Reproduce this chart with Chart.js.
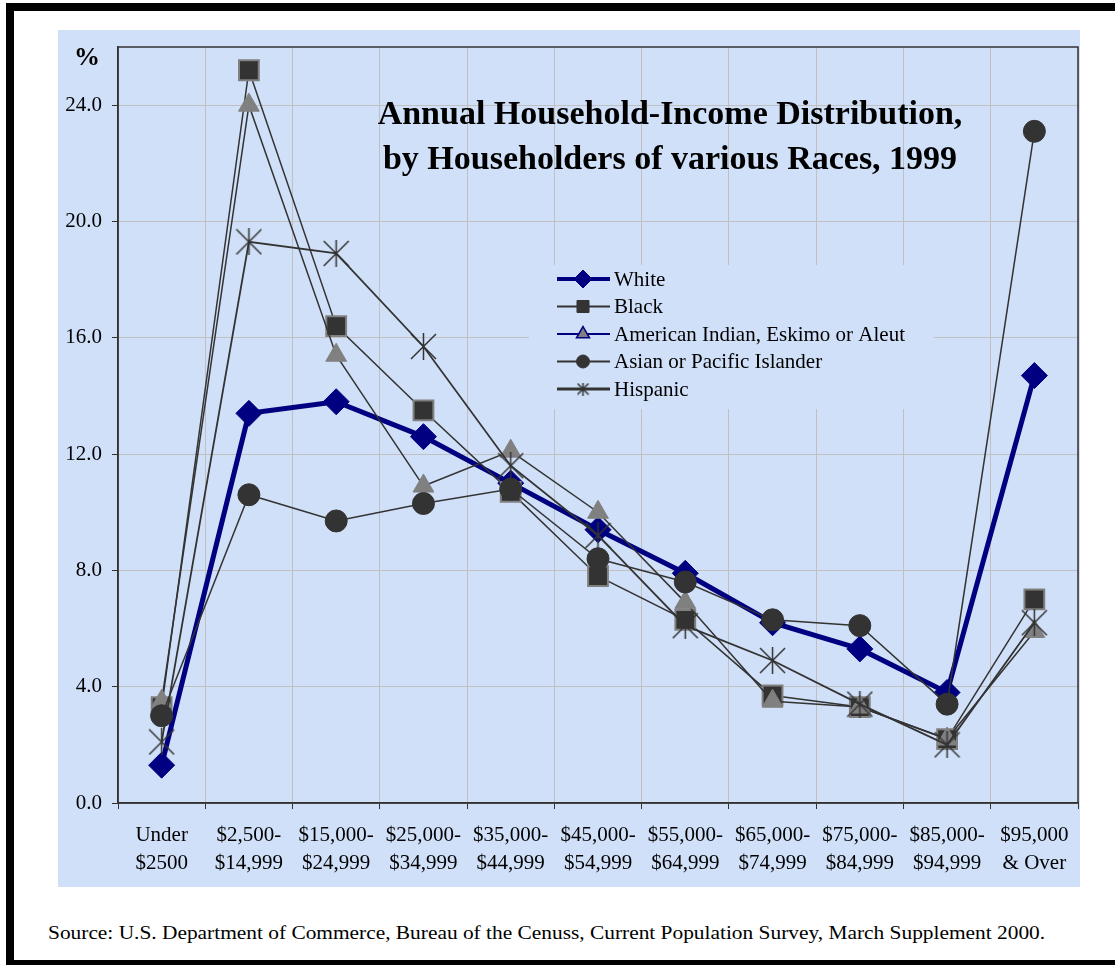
<!DOCTYPE html>
<html>
<head>
<meta charset="utf-8">
<script src="https://cdn.jsdelivr.net/npm/chart.js@4.4.1/dist/chart.umd.min.js"></script>
<style>
html, body { margin: 0; padding: 0; background: #fff; overflow: hidden; width: 1115px; height: 965px; }
#frame { position: absolute; left: 6px; top: 3px; width: 1130px; height: 965px; border: 8px solid #000; box-sizing: border-box; }
#plot { position: absolute; left: 58px; top: 30px; width: 1022px; height: 857px; background: #d0e0f8; }
#source { position: absolute; left: 48px; top: 922px; font-family: "Liberation Serif", "Times New Roman", serif; font-size: 19px; color: #000; white-space: nowrap; transform: scaleX(1.125); transform-origin: left top; }
</style>
</head>
<body>
<div id="frame"></div>
<div id="plot"><canvas id="myChart" width="1022" height="857"></canvas></div>
<div id="source">Source: U.S. Department of Commerce, Bureau of the Cenuss, Current Population Survey, March Supplement 2000.</div>
<script>
// income brackets (two lines each)
let labels = [
    ["Under", "$2500"], ["$2,500-", "$14,999"], ["$15,000-", "$24,999"], ["$25,000-", "$34,999"],
    ["$35,000-", "$44,999"], ["$45,000-", "$54,999"], ["$55,000-", "$64,999"], ["$65,000-", "$74,999"],
    ["$75,000-", "$84,999"], ["$85,000-", "$94,999"], ["$95,000", "& Over"]
];
let white    = [1.3, 13.4, 13.8, 12.6, 11.0, 9.4, 7.9, 6.2, 5.3, 3.8, 14.7];
let black    = [3.3, 25.2, 16.4, 13.5, 10.7, 7.8, 6.3, 3.7, 3.3, 2.2, 7.0];
let amIndian = [3.5, 24.0, 15.4, 10.9, 12.1, 10.0, 6.9, 3.5, 3.3, 2.2, 5.9];
let asian    = [3.0, 10.6, 9.7, 10.3, 10.8, 8.4, 7.6, 6.3, 6.1, 3.4, 23.1];
let hispanic = [2.1, 19.3, 18.9, 15.7, 11.6, 9.2, 6.1, 4.9, 3.4, 2.0, 6.2];

let titleLines = ["Annual Household-Income Distribution,", "by Householders of various Races, 1999"];
const serif = "'Liberation Serif', 'Times New Roman', serif";

// excel style star marker: vertical bar + X
function makeStar(size, lw) {
    let c = document.createElement("canvas");
    c.width = size; c.height = size;
    let g = c.getContext("2d");
    g.strokeStyle = "#333";
    g.lineWidth = lw;
    let m = size / 2;
    g.beginPath();
    g.moveTo(m, 0); g.lineTo(m, size);
    g.moveTo(1, 1); g.lineTo(size - 1, size - 1);
    g.moveTo(1, size - 1); g.lineTo(size - 1, 1);
    g.stroke();
    return c;
}
let starBig = makeStar(27, 1.5);
let starSmall = makeStar(13, 1.5);

let legendItems = [
    { text: "White", line: "#000080", lw: 4, style: "rectRot", r: 9, fill: "#000080", stroke: "#000080", bw: 1 },
    { text: "Black", line: "#333", lw: 2, style: "rect", r: 8.5, fill: "#333", stroke: "#333", bw: 1 },
    { text: "American Indian, Eskimo or Aleut", line: "#000080", lw: 2, style: "triangle", r: 7.5, fill: "#808080", stroke: "#000080", bw: 1.5 },
    { text: "Asian or Pacific Islander", line: "#333", lw: 2, style: "circle", r: 6.5, fill: "#333", stroke: "#333", bw: 1 },
    { text: "Hispanic", line: "#333", lw: 3, style: starSmall, r: 6, fill: "#333", stroke: "#333", bw: 0 }
];

const decorPlugin = {
    id: "decor",
    beforeDatasetsDraw(chart) {
        let ctx = chart.ctx;
        let a = chart.chartArea;
        ctx.save();
        // plot frame
        ctx.strokeStyle = "#333";
        ctx.lineWidth = 1.5;
        ctx.strokeRect(a.left, a.top, a.right - a.left, a.bottom - a.top);

        // % label
        ctx.fillStyle = "#000";
        ctx.font = "bold 26px " + serif;
        ctx.textAlign = "center";
        ctx.textBaseline = "middle";
        ctx.fillText("%", a.left - 31, a.top + 11);

        // title
        ctx.font = "bold 34px " + serif;
        ctx.textBaseline = "alphabetic";
        let tx = a.left + 552;
        ctx.fillText(titleLines[0], tx, a.top + 77);
        ctx.fillText(titleLines[1], tx, a.top + 122);

        // legend box covers the grid
        let lx = a.left + 411, ly = a.top + 218;
        ctx.fillStyle = "#d0e0f8";
        ctx.fillRect(lx, ly, 405, 144);
        legendItems.forEach((it, i) => {
            let y = ly + 14 + i * 27.5;
            ctx.strokeStyle = it.line;
            ctx.lineWidth = it.lw;
            ctx.beginPath();
            ctx.moveTo(lx + 28, y);
            ctx.lineTo(lx + 81, y);
            ctx.stroke();
            ctx.fillStyle = it.fill;
            ctx.strokeStyle = it.stroke;
            ctx.lineWidth = it.bw;
            Chart.helpers.drawPoint(ctx, { pointStyle: it.style, radius: it.r, borderWidth: it.bw, rotation: 0 }, lx + 54, y);
            ctx.fillStyle = "#000";
            ctx.font = "21px " + serif;
            ctx.textAlign = "left";
            ctx.textBaseline = "middle";
            ctx.fillText(it.text, lx + 85, y + 1);
        });
        ctx.restore();
    }
};

const myChart = new Chart(document.getElementById("myChart"), {
    type: "line",
    data: {
        labels: labels,
        datasets: [
            {
                label: "White",
                data: white,
                borderColor: "#000080",
                borderWidth: 5,
                pointStyle: "rectRot",
                pointRadius: 13,
                pointBackgroundColor: "#000080",
                pointBorderColor: "#000080",
                pointBorderWidth: 1,
                order: 5
            },
            {
                label: "Black",
                data: black,
                borderColor: "#333",
                borderWidth: 1.5,
                pointStyle: "rect",
                pointRadius: 14,
                pointBackgroundColor: "#333",
                pointBorderColor: "#808080",
                pointBorderWidth: 2,
                order: 4
            },
            {
                label: "American Indian, Eskimo or Aleut",
                data: amIndian,
                borderColor: "#333",
                borderWidth: 1.5,
                pointStyle: "triangle",
                pointRadius: 12,
                pointBackgroundColor: "#808080",
                pointBorderColor: "#808080",
                pointBorderWidth: 1,
                order: 3
            },
            {
                label: "Asian or Pacific Islander",
                data: asian,
                borderColor: "#333",
                borderWidth: 1.5,
                pointStyle: "circle",
                pointRadius: 11,
                pointBackgroundColor: "#333",
                pointBorderColor: "#333",
                pointBorderWidth: 1,
                order: 2
            },
            {
                label: "Hispanic",
                data: hispanic,
                borderColor: "#333",
                borderWidth: 1.8,
                pointStyle: starBig,
                pointRadius: 13,
                order: 1
            }
        ]
    },
    options: {
        responsive: false,
        animation: false,
        devicePixelRatio: 1,
        events: [],
        layout: { autoPadding: false, padding: { left: 0, top: 17, right: 2, bottom: 0 } },
        elements: { line: { tension: 0 } },
        plugins: {
            legend: { display: false },
            tooltip: { enabled: false }
        },
        scales: {
            x: {
                offset: true,
                grid: { offset: true, color: "#c0c0c0", tickColor: "#333", tickLength: 6, lineWidth: 1 },
                border: { color: "#333", width: 1.5 },
                ticks: {
                    color: "#000",
                    padding: 12,
                    maxRotation: 0,
                    autoSkip: false,
                    font: { family: serif, size: 21, lineHeight: 1.35 }
                },
                afterFit: (s) => { s.height = 84; s.paddingLeft = 0; s.paddingRight = 0; }
            },
            y: {
                min: 0,
                max: 26,
                grid: { color: "#c0c0c0", tickColor: "#333", tickLength: 6, lineWidth: 1 },
                border: { color: "#333", width: 1.5 },
                ticks: {
                    stepSize: 4,
                    includeBounds: false,
                    padding: 10,
                    color: "#000",
                    font: { family: serif, size: 21 },
                    callback: (v) => v.toFixed(1)
                },
                afterFit: (s) => { s.width = 60; s.paddingTop = 0; s.paddingBottom = 0; }
            }
        }
    },
    plugins: [decorPlugin]
});
</script>
</body>
</html>
